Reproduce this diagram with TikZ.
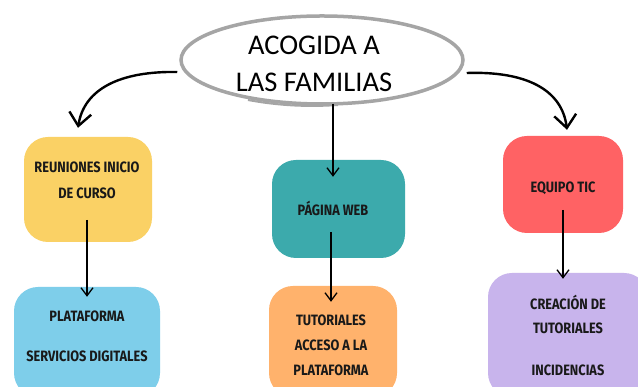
\documentclass[tikz,border=0pt]{standalone}
\usepackage{fontspec}
\setmainfont{Carlito}
\newfontfamily\boxfont[FakeStretch=0.85]{Fira Sans}
\usetikzlibrary{arrows.meta,shapes.geometric,calc}
\definecolor{cyel}{RGB}{250,209,101}
\definecolor{cred}{RGB}{255,98,100}
\definecolor{cteal}{RGB}{60,170,172}
\definecolor{cblue}{RGB}{126,206,234}
\definecolor{corange}{RGB}{255,178,108}
\definecolor{cpurple}{RGB}{200,180,236}
\definecolor{cgray}{RGB}{165,165,165}
\begin{document}
\begin{tikzpicture}[x=1pt,y=1pt,
  box/.style={rounded corners=24pt, inner sep=0pt},
  lbl/.style={font=\boxfont\bfseries\fontsize{15}{26}\selectfont, align=center, text=black!90, inner sep=0pt},
  conn/.style={-{Straight Barb[length=8pt,width=12pt]}, line width=1.3pt, black},
  curv/.style={-{Straight Barb[length=13pt,width=22pt]}, line width=2.4pt, black}]
\useasboundingbox (0,0) rectangle (638,387);
\fill[white] (0,0) rectangle (638,387);

% main ellipse
\node[ellipse, draw=cgray, line width=3.5pt, minimum width=282pt, minimum height=88pt] (el) at (322,327) {};
\draw[cgray, line width=2pt] (248,287) .. controls (280,281) and (310,280) .. (338,282);
\node[font=\fontsize{28.5}{37}\selectfont, align=center, inner sep=0pt] (elt) at (314,323.5) {ACOGIDA A\\LAS FAMILIAS};

% boxes
\fill[cyel, box] (24,145) rectangle (152,250); \node[minimum width=128pt, minimum height=105pt] (yb) at (88,197.5) {};
\fill[cteal, box] (272,129) rectangle (405,227); \node[minimum width=133pt, minimum height=98pt] (tb) at (338.5,178) {};
\fill[cred, box] (503,154) rectangle (623,251); \node[minimum width=120pt, minimum height=97pt] (rb) at (563,202.5) {};
\fill[cblue, box] (14,-10) rectangle (160,100); \node[minimum width=146pt, minimum height=110pt] (bb) at (87,45) {};
\fill[corange, box] (269,-10) rectangle (397,101); \node[minimum width=128pt, minimum height=111pt] (ob) at (333,45.5) {};
\fill[cpurple, box] (488,-10) rectangle (648,114); \node[minimum width=160pt, minimum height=124pt] (pb) at (568,52) {};

% texts
\node[lbl] (yt) at (87,207) {REUNIONES INICIO\\DE CURSO};
\node[lbl] (tt) at (333,179) {PÁGINA WEB};
\node[lbl] (rt) at (563,199) {EQUIPO TIC};
\node[lbl] (bt) at (87,51) {PLATAFORMA\\[14pt]SERVICIOS DIGITALES};
\node[lbl, font=\boxfont\bfseries\fontsize{15}{25}\selectfont] (ot) at (331,42) {TUTORIALES\\ACCESO A LA\\PLATAFORMA};
\node[lbl, font=\boxfont\bfseries\fontsize{15}{24}\selectfont] (pt) at (568,52) {CREACIÓN DE\\TUTORIALES\\[18pt]INCIDENCIAS};

% connectors
\coordinate (ys) at (87,167);
\coordinate (ts) at (331,155);
\coordinate (rs) at (563,177);
\draw[curv] ([xshift=-2pt,yshift=-12pt]el.west) .. controls (120,316) and (84,298) .. ([xshift=-10pt,yshift=9pt]yb.north);
\draw[curv] ([xshift=2pt,yshift=-13pt]el.east) .. controls (525,316) and (562,298) .. ([xshift=4pt,yshift=6pt]rb.north);
\draw[conn] ([xshift=11pt,yshift=2pt]el.south) -- ([xshift=-5.5pt,yshift=-17pt]tb.north);
\draw[conn] (ys) -- ([yshift=-10pt]bb.north);
\draw[conn] (ts) -- ([xshift=-2pt,yshift=-16pt]ob.north);
\draw[conn] (rs) -- ([xshift=-5pt,yshift=-6pt]pb.north);
\end{tikzpicture}
\end{document}
